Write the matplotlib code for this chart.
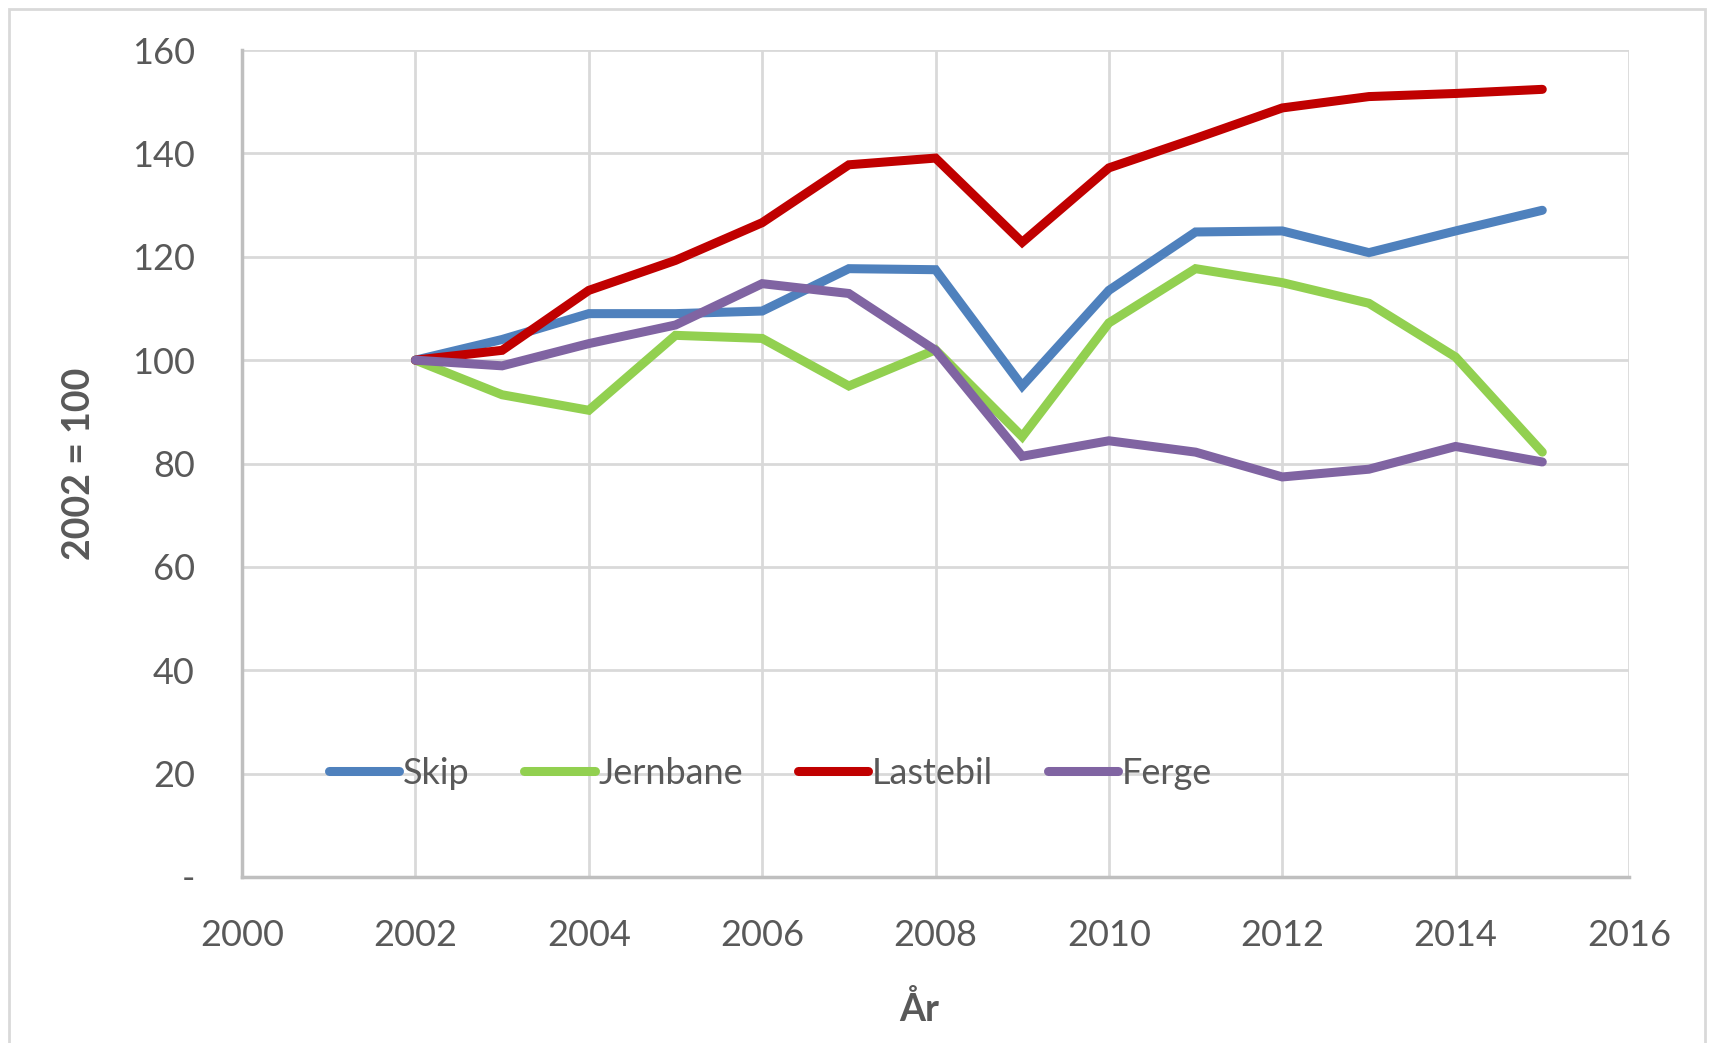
import numpy as np
import matplotlib
matplotlib.use('Agg')
import matplotlib.pyplot as plt
from matplotlib.patches import Rectangle

matplotlib.rcParams.update({'font.family': ['Lato', 'DejaVu Sans'], 'font.size': 26})

years = [2002, 2003, 2004, 2005, 2006, 2007, 2008, 2009, 2010, 2011, 2012, 2013, 2014, 2015]
skip = [100, 104, 109, 109, 109.5, 117.7, 117.5, 95, 113.5, 124.8, 125, 120.8, 125, 129]
jernbane = [100, 93.3, 90.3, 104.8, 104.2, 95, 102, 85.2, 107.2, 117.7, 115, 111, 100.6, 82.2]
lastebil = [100, 101.9, 113.5, 119.3, 126.6, 137.8, 139.1, 122.8, 137.2, 142.9, 148.8, 151, 151.6, 152.4]
ferge = [100, 98.9, 103.2, 106.8, 114.8, 112.9, 101.9, 81.4, 84.4, 82.2, 77.4, 78.9, 83.3, 80.3]

series = [('Skip', skip, '#4F81BD'), ('Jernbane', jernbane, '#92D050'),
          ('Lastebil', lastebil, '#C00000'), ('Ferge', ferge, '#8064A2')]
grey = '#595959'

fig = plt.figure(figsize=(17.12, 10.43), dpi=100)
fig.patches.append(Rectangle((0.005, -0.01), 0.991, 1.001, transform=fig.transFigure,
                             fill=False, edgecolor='#D9D9D9', linewidth=2))
ax = fig.add_axes([0.1414, 0.1592, 0.8101, 0.7928])

for name, vals, col in series:
    ax.plot(years, vals, color=col, lw=6.5, label=name, solid_capstyle='round', solid_joinstyle='miter')

ax.set_xlim(2000, 2016)
ax.set_ylim(0, 160)
ax.set_xticks(np.arange(2000, 2017, 2))
ax.set_yticks(np.arange(0, 161, 20))
ax.set_yticklabels(['-'] + [str(v) for v in range(20, 161, 20)])
ax.grid(True, color='#D9D9D9', lw=2)
ax.set_axisbelow(True)
for s in ['top', 'right']:
    ax.spines[s].set_visible(False)
for s in ['left', 'bottom']:
    ax.spines[s].set_color('#BFBFBF')
    ax.spines[s].set_linewidth(2.5)
ax.tick_params(length=0, colors=grey, labelsize=26)
ax.tick_params(axis='y', pad=34)
ax.tick_params(axis='x', pad=30)

ax.set_ylabel('2002 = 100', fontsize=27, fontweight='bold', color=grey, labelpad=26)
ax.set_xlabel('År', fontsize=27, fontweight='bold', color=grey, labelpad=26)
ax.xaxis.set_label_coords(0.488, -0.138)

leg = ax.legend(loc='center left', bbox_to_anchor=(0.039, 0.125), ncol=4, frameon=False,
                handlelength=1.95, handletextpad=0.1, columnspacing=1.52, fontsize=26)
for t in leg.get_texts():
    t.set_color(grey)

plt.savefig('out.png', dpi=100)
